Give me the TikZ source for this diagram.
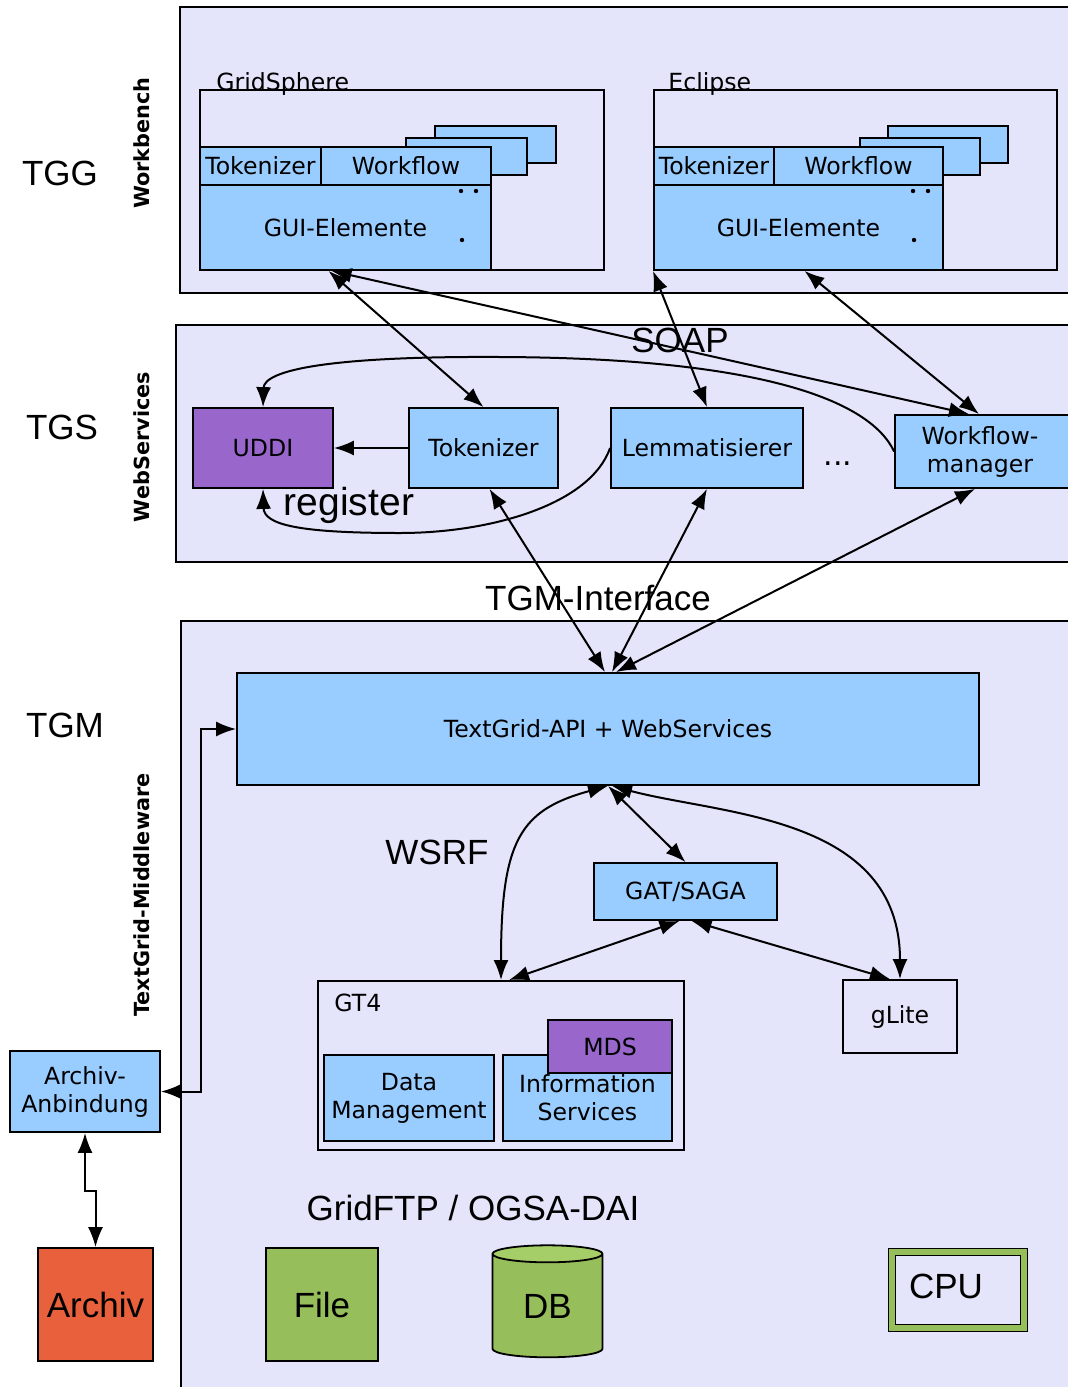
\documentclass[tikz,border=0pt]{standalone}
\usepackage{fontspec}
\setmainfont{DejaVu Sans}
\newfontfamily\arialschrift{Liberation Sans}
\usepackage{tikz}
\usetikzlibrary{arrows.meta,shapes.geometric}
\definecolor{lavendel}{HTML}{E4E4FA}
\definecolor{hellblau}{HTML}{99CCFF}
\definecolor{lila}{HTML}{9966CC}
\definecolor{archivrot}{HTML}{E8603C}
\definecolor{gruen}{HTML}{96BE5A}
\definecolor{hellgruen}{HTML}{A5CD68}

\begin{document}
\begin{tikzpicture}[x=0.5pt,y=-0.5pt,
	rahmen/.style={draw, fill=lavendel, line width=1pt},
	klein/.style={font=\fontsize{11.8}{14}\selectfont},
	kasten/.style={klein, draw, fill=hellblau, line width=0.9pt, inner sep=0pt, align=center},
	gross/.style={font=\arialschrift\fontsize{17.5}{21}\selectfont},
	seite/.style={rotate=90, font=\bfseries\fontsize{10.4}{12}\selectfont},
	pfeil/.style={-{Latex[length=10pt,width=7.5pt]}, line width=1pt},
	doppel/.style={{Latex[length=10pt,width=7.5pt]}-{Latex[length=10pt,width=7.5pt]}, line width=1pt}]
		\useasboundingbox (0,0) rectangle (1068,1387);
		\clip (0,0) rectangle (1068,1387);
		\draw[rahmen] (180,7) rectangle (1080,293);
		\draw[rahmen] (176,325) rectangle (1080,562);
		\draw[rahmen] (181,621) rectangle (1080,1400);
		\draw
		node[gross] at (60,173) (tgg) {TGG}
		node[gross] at (62,427) (tgs) {TGS}
		node[gross] at (65,725) (tgm) {TGM}
		node[seite] at (142,143) (wbk) {Workbench}
		node[seite] at (142,447) (wsv) {WebServices}
		node[seite] at (142,895) (mdw) {TextGrid-Middleware}
		node[rahmen, minimum width=202pt, minimum height=90pt] at (402,180) (gsp) {}
		node[rahmen, minimum width=201.5pt, minimum height=90pt] at (855.5,180) (ecl) {}
		node[klein, anchor=base west, inner sep=0pt] at (216,90) (gspt) {GridSphere}
		node[klein, anchor=base west, inner sep=0pt] at (668,90) (eclt) {Eclipse}
		node[kasten, minimum width=60.5pt, minimum height=18.5pt] at (495.5,144.5) (hg2) {}
		node[kasten, minimum width=60.5pt, minimum height=18.5pt] at (466.5,156.5) (hg1) {}
		node[kasten, minimum width=60.5pt, minimum height=19pt] at (260.5,166) (tok1) {Tokenizer}
		node[kasten, minimum width=85pt, minimum height=19pt] at (406,166) (wfl1) {Workflow}
		node[kasten, minimum width=145.5pt, minimum height=42.5pt] at (345.5,227.5) (gui1) {GUI-Elemente}
		node[kasten, minimum width=60pt, minimum height=18.5pt] at (948,144.5) (he2) {}
		node[kasten, minimum width=60pt, minimum height=18.5pt] at (920,156.5) (he1) {}
		node[kasten, minimum width=60pt, minimum height=19pt] at (714,166) (tok2) {Tokenizer}
		node[kasten, minimum width=84.5pt, minimum height=19pt] at (858.5,166) (wfl2) {Workflow}
		node[kasten, minimum width=144.5pt, minimum height=42.5pt] at (798.5,227.5) (gui2) {GUI-Elemente}
		node[kasten, fill=lila, minimum width=70pt, minimum height=40pt] at (263,448) (udd) {UDDI}
		node[kasten, minimum width=74.5pt, minimum height=40pt] at (483.5,448) (tok) {Tokenizer}
		node[kasten, minimum width=96pt, minimum height=40pt] at (707,448) (lem) {Lemmatisierer}
		node[klein, font=\fontsize{15}{18}\selectfont] at (838,464) (mehr) {...}
		node[kasten, minimum width=90pt, minimum height=36.5pt] at (985,451.5) (wfm) {Workflow-\hspace*{5pt}\\manager\hspace*{5pt}}
		node[kasten, minimum width=371pt, minimum height=56pt] at (608,729) (api) {TextGrid-API + WebServices}
		node[kasten, minimum width=91.5pt, minimum height=28.5pt] at (685.5,891.5) (gat) {GAT/SAGA}
		node[rahmen, minimum width=183pt, minimum height=84.5pt] at (501,1065.5) (gt4) {}
		node[klein, anchor=base west, inner sep=0pt] at (334,1011) (gt4t) {GT4}
		node[kasten, minimum width=85pt, minimum height=43pt] at (409,1098) (dat) {Data\\Management}
		node[kasten, minimum width=84.5pt, minimum height=43pt] at (587.5,1098) (inf) {Information\\Services}
		node[kasten, fill=lila, minimum width=62pt, minimum height=26.5pt] at (610,1046.5) (mds) {MDS}
		node[kasten, fill=lavendel, minimum width=57pt, minimum height=36.5pt] at (900,1016.5) (glt) {gLite}
		node[kasten, minimum width=75pt, minimum height=40.5pt] at (85,1091.5) (anb) {Archiv-\\Anbindung}
		node[gross, draw, fill=archivrot, line width=0.9pt, minimum width=57.5pt, minimum height=56.5pt] at (95.5,1304.5) (arc) {Archiv}
		node[gross, draw, fill=gruen, line width=0.9pt, minimum width=56pt, minimum height=56.5pt] at (322,1304.5) (fil) {File}
		node[gross, shape=cylinder, shape border rotate=90, aspect=0.35, draw, line width=0.9pt, inner sep=0pt,
			cylinder uses custom fill, cylinder body fill=gruen, cylinder end fill=hellgruen,
			minimum width=55pt, minimum height=56pt] at (547.5,1306) (db) {DB}
		node[gross, draw, double=gruen, double distance=2.8pt, line width=0.6pt, fill=lavendel,
			minimum width=66pt, minimum height=38pt] at (958,1290) (cpu) {\raisebox{3.5pt}{CPU}\hspace*{12pt}}
		node[gross] at (680,340) (soap) {SOAP}
		node[gross] at (598,598) (tgmi) {TGM-Interface}
		node[gross] at (437,852) (wsrf) {WSRF}
		node[gross] at (473,1208) (ftp) {GridFTP / OGSA-DAI}
		node[gross, font=\arialschrift\fontsize{19.5}{23}\selectfont] at (349,505) (reg) {register};
		\fill (461,191) circle[radius=1.1pt] (476,191) circle[radius=1.1pt] (462,240) circle[radius=1.1pt];
		\fill (913,191) circle[radius=1.1pt] (928,191) circle[radius=1.1pt] (914,240) circle[radius=1.1pt];
		\draw[doppel] ([xshift=-8.5pt]gui1.south) -- (tok.north);
		\draw[doppel] ([xshift=-7pt]gui1.south) -- ([xshift=-8pt]wfm.north);
		\draw[doppel] ([xshift=3pt]gui2.south) -- ([xshift=-3pt]wfm.north);
		\draw[doppel] (ecl.south west) -- (lem.north);
		\draw[pfeil] (tok.west) -- (udd.east);
		\draw[pfeil] (wfm.west) .. controls (870,400) and (760,358) .. (500,357) .. controls (330,356) and (264,370) .. (udd.north);
		\draw[pfeil] (lem.west) .. controls (590,505) and (490,533) .. (400,533) .. controls (300,533) and (264,525) .. (udd.south);
		\draw[doppel] ([xshift=3pt]tok.south) -- ([xshift=-1.5pt]api.north);
		\draw[doppel] (lem.south) -- ([xshift=2pt]api.north);
		\draw[doppel] ([xshift=-5pt]wfm.south) -- ([xshift=4pt]api.north);
		\draw[doppel] (api.south) -- (gat.north);
		\draw[doppel] (api.south) .. controls (520,810) and (501,840) .. (gt4.north);
		\draw[doppel] ([xshift=2pt]api.south) .. controls (720,815) and (900,815) .. (glt.north);
		\draw[doppel] ([xshift=-3pt]gat.south) -- ([xshift=4pt]gt4.north);
		\draw[doppel] ([xshift=3pt]gat.south) -- ([xshift=-5pt]glt.north);
		\draw[doppel] (anb.east) -- ++(40,0) |- (api.west);
		\draw[doppel] (anb.south) -- ++(0,58) -| (arc.north);
\end{tikzpicture}
\end{document}
